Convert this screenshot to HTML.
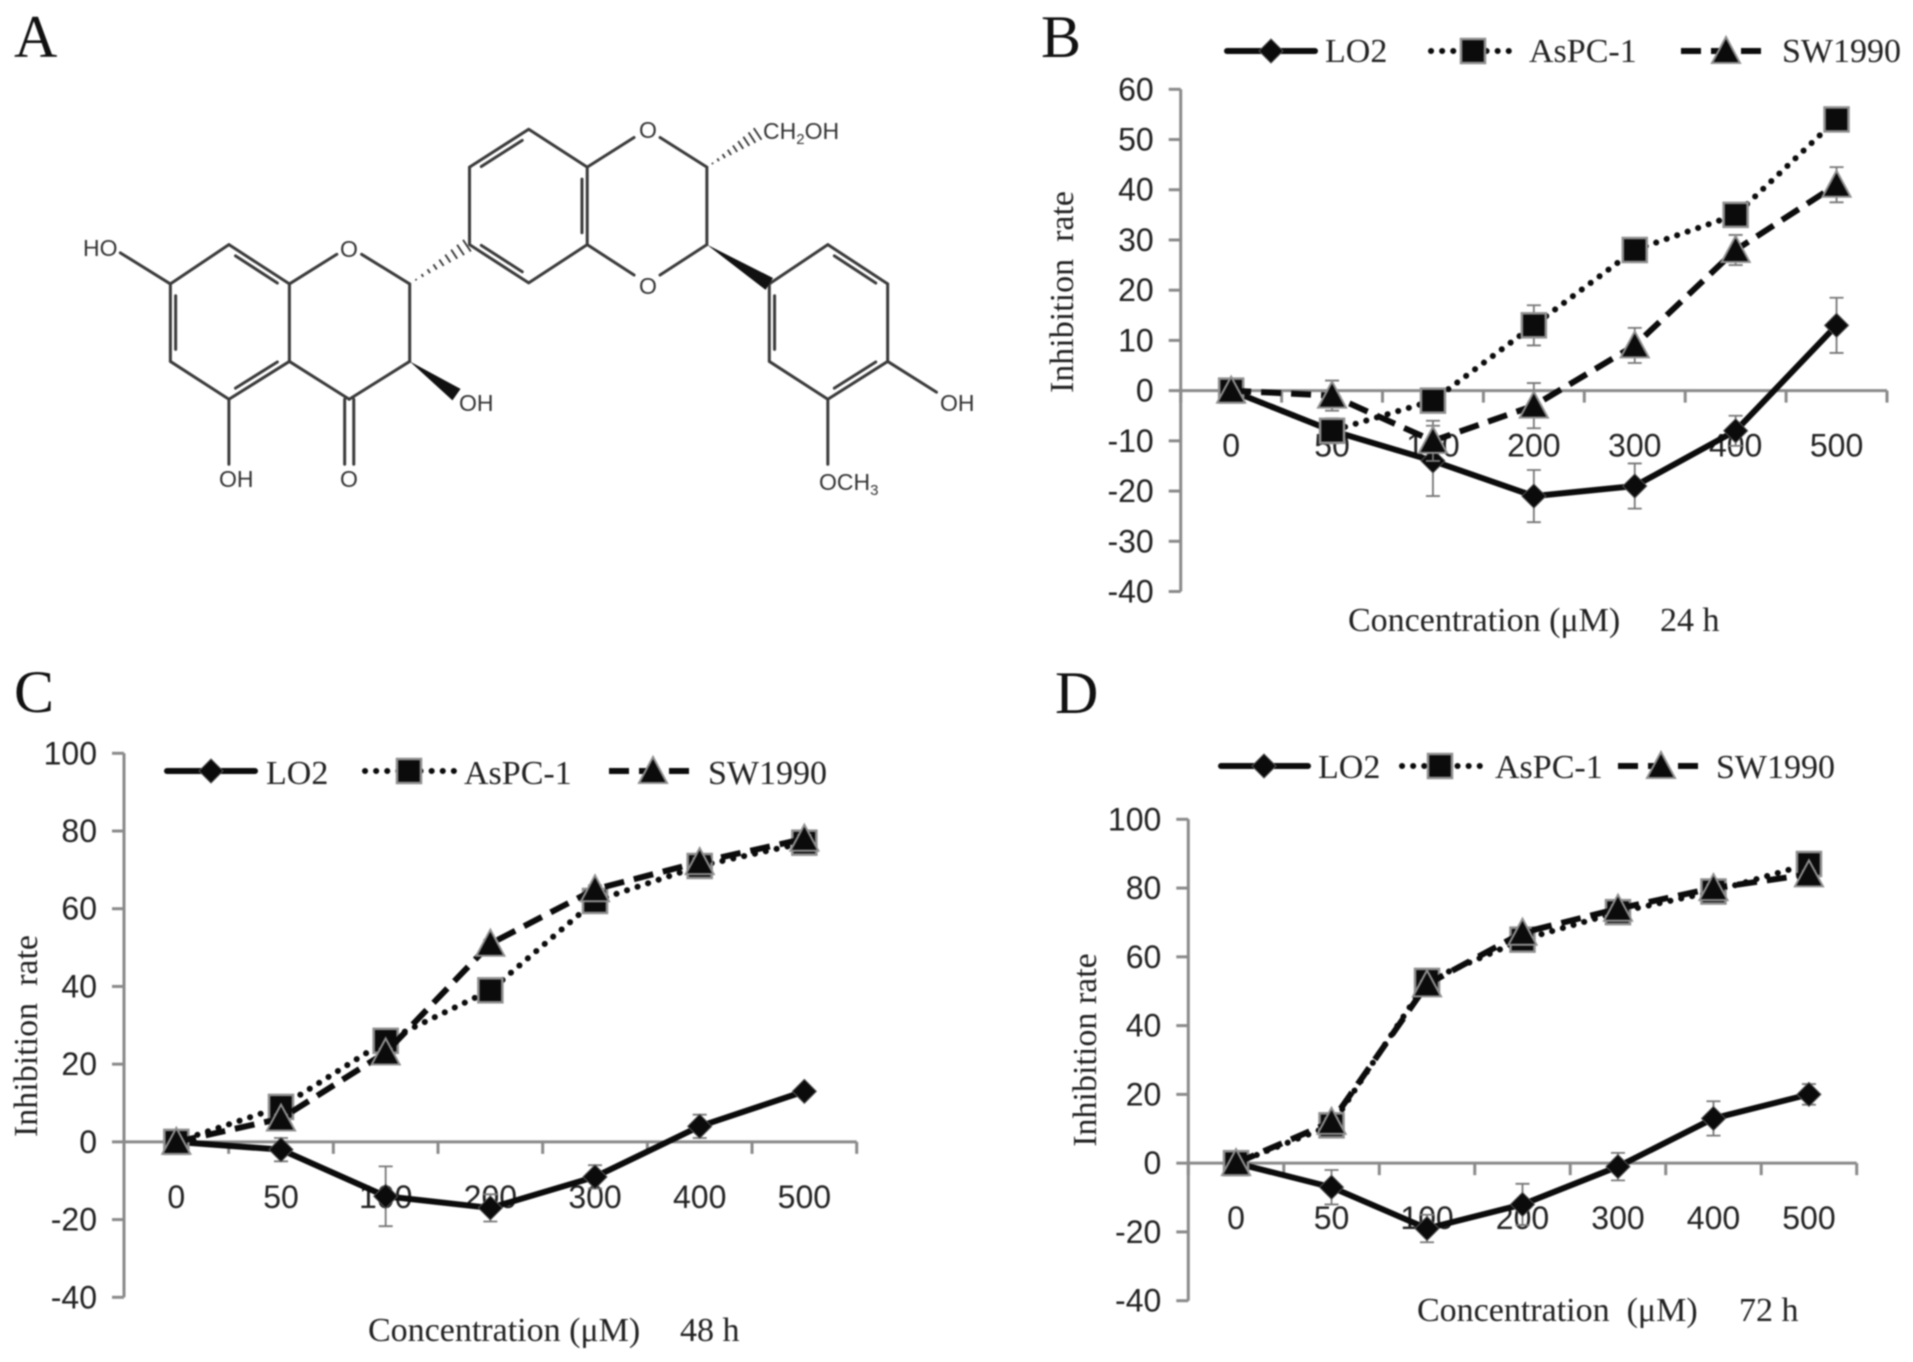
<!DOCTYPE html>
<html lang="en">
<head>
<meta charset="utf-8">
<title>Inhibition rate figure</title>
<style>
html,body{margin:0;padding:0;background:#fff;width:1913px;height:1362px;overflow:hidden}
svg{display:block;filter:blur(.9px)}
.letter{font:60px "Liberation Serif",serif;fill:#111}
.serif{font:34px "Liberation Serif",serif;fill:#222}
.tick{font:32px "Liberation Sans",sans-serif;fill:#222}
.atom{font:23px "Liberation Sans",sans-serif;fill:#333}
</style>
</head>
<body>
<svg id="fig" xmlns="http://www.w3.org/2000/svg" width="1913" height="1362" viewBox="0 0 1913 1362">
  <rect width="1913" height="1362" fill="#fff"/>
  <text class="letter" x="14" y="57">A</text>
  <text class="letter" x="1041" y="57">B</text>
  <text class="letter" x="14" y="712">C</text>
  <text class="letter" x="1055" y="713">D</text>

  <g id="molecule">
    <text class="atom" x="83" y="256">HO</text>
    <text class="atom" x="349" y="257" text-anchor="middle">O</text>
    <text class="atom" x="648" y="138" text-anchor="middle">O</text>
    <text class="atom" x="648" y="294" text-anchor="middle">O</text>
    <text class="atom" x="763" y="139">CH<tspan font-size="15" dy="5">2</tspan><tspan dy="-5">OH</tspan></text>
    <text class="atom" x="459" y="411">OH</text>
    <text class="atom" x="219" y="487">OH</text>
    <text class="atom" x="349" y="487" text-anchor="middle">O</text>
    <text class="atom" x="940" y="411">OH</text>
    <text class="atom" x="819" y="490">OCH<tspan font-size="15" dy="5">3</tspan></text>
  </g>

  <g id="panel-b"></g>
  <g id="panel-c"></g>
  <g id="panel-d"></g>

  <g>
    <text class="serif" transform="translate(1073,292) rotate(-90)" text-anchor="middle" xml:space="preserve">Inhibition  rate</text>
    <text class="serif" x="1348" y="631">Concentration (μM)</text>
    <text class="serif" x="1660" y="631">24 h</text>
    <text class="serif" x="1325" y="62">LO2</text>
    <text class="serif" x="1529" y="62">AsPC-1</text>
    <text class="serif" x="1782" y="62">SW1990</text>
  </g>
  <g>
    <text class="serif" transform="translate(37,1036) rotate(-90)" text-anchor="middle" xml:space="preserve">Inhibition  rate</text>
    <text class="serif" x="368" y="1341">Concentration (μM)</text>
    <text class="serif" x="680" y="1341">48 h</text>
    <text class="serif" x="266" y="784">LO2</text>
    <text class="serif" x="464" y="784">AsPC-1</text>
    <text class="serif" x="708" y="784">SW1990</text>
  </g>
  <g>
    <text class="serif" transform="translate(1096,1050) rotate(-90)" text-anchor="middle">Inhibition rate</text>
    <text class="serif" x="1417" y="1321" xml:space="preserve">Concentration  (μM)</text>
    <text class="serif" x="1739" y="1321">72 h</text>
    <text class="serif" x="1318" y="778">LO2</text>
    <text class="serif" x="1495" y="778">AsPC-1</text>
    <text class="serif" x="1716" y="778">SW1990</text>
  </g>
</svg>

<script>
// Shared categories
const categories = ['0', '50', '100', '200', '300', '400', '500'];

// Panel B (24 h)
const bYTicks = [60, 50, 40, 30, 20, 10, 0, -10, -20, -30, -40];
const bLo2 = [0, -8, -14, -21, -19, -8, 13];
const bAspc = [0, -8, -2, 13, 28, 35, 54];
const bSw = [0, -1, -10, -3, 9, 28, 41];
const bLo2Err = [0, 1, 7, 5.2, 4.5, 3, 5.5];
const bAspcErr = [0, 2.5, 1, 4, 1, 1, 1];
const bSwErr = [0, 3, 4, 4.5, 3.5, 3, 3.5];

// Panel C (48 h)
const cYTicks = [100, 80, 60, 40, 20, 0, -20, -40];
const cLo2 = [0, -2, -14, -17, -9, 4, 13];
const cAspc = [0, 9, 26, 39, 62, 71, 77];
const cSw = [0, 6, 23, 51, 65, 72, 78];
const cLo2Err = [0, 3, 7.7, 3.5, 3, 3, 1];
const cAspcErr = [0, 1, 1, 1, 1, 1, 1];
const cSwErr = [0, 1, 1, 1, 1, 1, 1];

// Panel D (72 h)
const dYTicks = [100, 80, 60, 40, 20, 0, -20, -40];
const dLo2 = [0, -7, -19, -12, -1, 13, 20];
const dAspc = [0, 11, 53, 65, 73, 79, 87];
const dSw = [0, 12, 52, 67, 74, 80, 84];
const dLo2Err = [0, 5, 4, 6, 4, 5, 3];
const dAspcErr = [0, 1, 1, 1, 1, 1, 1];
const dSwErr = [0, 1, 1, 1, 1, 1, 1];

const NS = 'http://www.w3.org/2000/svg';
const AXIS = '#8a8a8a';
const OUTLINE = '#8f8f8f';

function make(parent, tag, name, attrs) {
  const node = document.createElementNS(NS, tag);
  for (const k in attrs) node.setAttribute(k, attrs[k]);
  
  
  parent.appendChild(node);
  return node;
}

function diamond(parent, name, x, y) {
  const r = 12;
  make(parent, 'path', name, {
    d: 'M' + x + ' ' + (y - r) + 'L' + (x + r) + ' ' + y + 'L' + x + ' ' + (y + r) + 'L' + (x - r) + ' ' + y + 'Z',
    fill: '#0b0b0b', stroke: '#555', 'stroke-width': 1
  });
}
function square(parent, name, x, y) {
  const r = 12;
  make(parent, 'rect', name, {
    x: x - r, y: y - r, width: 2 * r, height: 2 * r,
    fill: '#0b0b0b', stroke: OUTLINE, 'stroke-width': 2.5
  });
}
function triangle(parent, name, x, y) {
  const r = 14;
  make(parent, 'path', name, {
    d: 'M' + x + ' ' + (y - r) + 'L' + (x + r) + ' ' + (y + r - 2) + 'L' + (x - r) + ' ' + (y + r - 2) + 'Z',
    fill: '#0b0b0b', stroke: OUTLINE, 'stroke-width': 2
  });
}

const styles = {
  lo2: { width: 6, dash: null, cap: 'round', marker: diamond },
  aspc: { width: 6, dash: '0.1 11', cap: 'round', marker: square },
  sw: { width: 6, dash: '20 10', cap: 'butt', marker: triangle }
};

function drawPanel(id, g, yTicks, series) {
  const root = document.getElementById(id);
  const yMax = yTicks[0];
  const yMin = yTicks[yTicks.length - 1];
  const yScale = v => g.top + (yMax - v) / (yMax - yMin) * (g.bottom - g.top);
  const band = (g.right - g.left) / categories.length;
  const xScale = i => g.left + band * (i + 0.5);
  const zero = yScale(0);

  make(root, 'line', 'y-axis', { x1: g.left, x2: g.left, y1: g.top, y2: g.bottom, stroke: AXIS, 'stroke-width': 3 });
  make(root, 'line', 'x-axis', { x1: g.left, x2: g.right, y1: zero, y2: zero, stroke: AXIS, 'stroke-width': 3 });

  yTicks.forEach(v => {
    const y = yScale(v);
    make(root, 'line', 'y-tick', { x1: g.left - 12, x2: g.left, y1: y, y2: y, stroke: AXIS, 'stroke-width': 3 });
    const t = make(root, 'text', 'y-tick-label', { class: 'tick', x: g.left - 27, y: y + 11, 'text-anchor': 'end' });
    t.textContent = String(v);
  });
  for (let i = 0; i <= categories.length; i++) {
    const x = g.left + band * i;
    make(root, 'line', 'x-tick', { x1: x, x2: x, y1: zero, y2: zero + 12, stroke: AXIS, 'stroke-width': 3 });
  }
  categories.forEach((c, i) => {
    const t = make(root, 'text', 'x-tick-label', { class: 'tick', x: xScale(i), y: zero + 66, 'text-anchor': 'middle' });
    t.textContent = c;
  });

  series.forEach(s => {
    const st = styles[s.key];
    const sg = make(root, 'g', 'series-' + s.key, {});
    s.errors.forEach((e, i) => {
      if (!e) return;
      const x = xScale(i), y1 = yScale(s.values[i] + e), y2 = yScale(s.values[i] - e);
      make(sg, 'path', 'error-bar-' + s.key, {
        d: 'M' + x + ' ' + y1 + 'V' + y2 + 'M' + (x - 7) + ' ' + y1 + 'H' + (x + 7) + 'M' + (x - 7) + ' ' + y2 + 'H' + (x + 7),
        fill: 'none', stroke: '#777', 'stroke-width': 1.8
      });
    });
    const pts = s.values.map((v, i) => xScale(i) + ' ' + yScale(v)).join(' L');
    const attrs = { d: 'M' + pts, fill: 'none', stroke: '#0b0b0b', 'stroke-width': st.width, 'stroke-linecap': st.cap, 'stroke-linejoin': 'round' };
    if (st.dash) attrs['stroke-dasharray'] = st.dash;
    make(sg, 'path', 'line-' + s.key, attrs);
    s.values.forEach((v, i) => st.marker(sg, 'point-' + s.key, xScale(i), yScale(v)));
  });

  const legend = make(root, 'g', 'legend', {});
  series.forEach(s => {
    const st = styles[s.key];
    const [x1, xm, x2] = g.legend[s.key];
    const attrs = { x1: x1, x2: x2, y1: g.legendY, y2: g.legendY, stroke: '#0b0b0b', 'stroke-width': st.width, 'stroke-linecap': st.cap };
    if (st.dash) attrs['stroke-dasharray'] = st.dash;
    make(legend, 'line', 'legend-line-' + s.key, attrs);
    st.marker(legend, 'legend-marker-' + s.key, xm, g.legendY);
  });
}

drawPanel('panel-b',
  { left: 1180.7, right: 1887, top: 89.3, bottom: 591.5, legendY: 51,
    legend: { lo2: [1227, 1271, 1315], aspc: [1431, 1473, 1519], sw: [1681, 1726, 1771] } },
  bYTicks,
  [ { key: 'lo2', values: bLo2, errors: bLo2Err },
    { key: 'aspc', values: bAspc, errors: bAspcErr },
    { key: 'sw', values: bSw, errors: bSwErr } ]);

drawPanel('panel-c',
  { left: 124, right: 856.7, top: 753.3, bottom: 1297.3, legendY: 771,
    legend: { lo2: [167, 211, 255], aspc: [365, 409, 455], sw: [609, 653, 698] } },
  cYTicks,
  [ { key: 'lo2', values: cLo2, errors: cLo2Err },
    { key: 'aspc', values: cAspc, errors: cAspcErr },
    { key: 'sw', values: cSw, errors: cSwErr } ]);

drawPanel('panel-d',
  { left: 1188.3, right: 1856.7, top: 819.3, bottom: 1300.7, legendY: 766,
    legend: { lo2: [1221, 1264, 1308], aspc: [1402, 1440, 1490], sw: [1618, 1661, 1704] } },
  dYTicks,
  [ { key: 'lo2', values: dLo2, errors: dLo2Err },
    { key: 'aspc', values: dAspc, errors: dAspcErr },
    { key: 'sw', values: dSw, errors: dSwErr } ]);

// Chemical structure skeleton (drawing geometry, not chart data)
(function () {
  const mol = document.getElementById('molecule');
  const sx = 0.6503, sy = 1 / 2.8;
  const P = (x, y) => [x * sx, y * sy];
  const A = {
    a: P(813, 362), b: P(722, 468), c: P(722, 685), d: P(813, 792), e: P(903, 685), f: P(903, 468),
    o1: P(975, 385), o1b: P(1015, 385), g: P(1087, 468), h: P(1087, 685), o2: P(975, 770), o2b: P(1015, 770),
    p1: P(1183, 795), p2: P(1273, 685), p3: P(1365, 795), p4: P(1365, 1012), p5: P(1273, 1118), p6: P(1183, 1012),
    c2: P(630, 795), c3: P(630, 1012), c4: P(537, 1118), c4a: P(445, 1012), c8a: P(445, 795),
    o3: P(518, 712), o3b: P(556, 712),
    c8: P(352, 685), c7: P(262, 795), c6: P(262, 1012), c5: P(352, 1118)
  };
  const single = [
    ['a', 'f'], ['b', 'c'], ['d', 'e'], ['f', 'o1'], ['o1b', 'g'], ['g', 'h'], ['h', 'o2b'], ['o2', 'e'],
    ['p1', 'p6'], ['p6', 'p5'], ['p3', 'p4'], ['p1', 'p2'],
    ['c8a', 'o3'], ['o3b', 'c2'], ['c2', 'c3'], ['c3', 'c4'], ['c4', 'c4a'], ['c4a', 'c8a'],
    ['c8a', 'c8'], ['c8', 'c7'], ['c7', 'c6'], ['c6', 'c5'], ['c5', 'c4a']
  ];
  const extra = [
    [P(262, 795), P(185, 708)], [P(352, 1118), P(352, 1300)],
    [P(1365, 1012), P(1440, 1098)], [P(1273, 1118), P(1273, 1300)],
    [P(530, 1118), P(530, 1300)], [P(544, 1118), P(544, 1300)]
  ];
  // [a, b, ring centre] inner lines of double bonds
  const doubles = [
    ['a', 'b', P(813, 577)], ['c', 'd', P(813, 577)], ['e', 'f', P(813, 577)],
    ['p2', 'p3', P(1273, 900)], ['p4', 'p5', P(1273, 900)], ['p1', 'p6', P(1273, 900)],
    ['c8', 'c8a', P(352, 900)], ['c7', 'c6', P(352, 900)], ['c5', 'c4a', P(352, 900)]
  ];
  let d = '';
  const seg = (p, q) => { d += 'M' + p[0] + ' ' + p[1] + 'L' + q[0] + ' ' + q[1]; };
  single.forEach(s => seg(A[s[0]], A[s[1]]));
  extra.forEach(s => seg(s[0], s[1]));
  // Outer edges of the double bonds
  seg(A.a, A.b); seg(A.c, A.d); seg(A.e, A.f); seg(A.p2, A.p3); seg(A.p4, A.p5);
  doubles.forEach(t => {
    const p = A[t[0]], q = A[t[1]], c = t[2];
    const shrink = (u, v) => [u[0] + (v[0] - u[0]) * 0.12, u[1] + (v[1] - u[1]) * 0.12];
    const p2 = shrink(p, q), q2 = shrink(q, p);
    const inward = u => [u[0] + (c[0] - u[0]) * 0.09, u[1] + (c[1] - u[1]) * 0.09];
    seg(inward(p2), inward(q2));
  });
  make(mol, 'path', 'molecule-bonds', { d: d, fill: 'none', stroke: '#3a3a3a', 'stroke-width': 3, 'stroke-linecap': 'round' });

  const wedge = (from, to, w) => {
    const dx = to[0] - from[0], dy = to[1] - from[1], l = Math.hypot(dx, dy);
    const nx = -dy / l * w, ny = dx / l * w;
    make(mol, 'path', 'wedge-bond', {
      d: 'M' + from[0] + ' ' + from[1] + 'L' + (to[0] + nx) + ' ' + (to[1] + ny) + 'L' + (to[0] - nx) + ' ' + (to[1] - ny) + 'Z',
      fill: '#111'
    });
  };
  wedge(A.h, A.p1, 7);
  wedge(A.c3, P(702, 1105), 7);

  const hash = (from, to, w, n) => {
    const dx = to[0] - from[0], dy = to[1] - from[1], l = Math.hypot(dx, dy);
    const nx = -dy / l, ny = dx / l;
    let hd = '';
    for (let i = 1; i <= n; i++) {
      const t = i / n, cx = from[0] + dx * t, cy = from[1] + dy * t, hw = w * t;
      hd += 'M' + (cx + nx * hw) + ' ' + (cy + ny * hw) + 'L' + (cx - nx * hw) + ' ' + (cy - ny * hw);
    }
    make(mol, 'path', 'hash-bond', { d: hd, fill: 'none', stroke: '#333', 'stroke-width': 1.8 });
  };
  hash(A.g, P(1165, 375), 7, 9);
  hash(A.c2, P(718, 688), 7, 9);
})();
</script>
</body>
</html>
